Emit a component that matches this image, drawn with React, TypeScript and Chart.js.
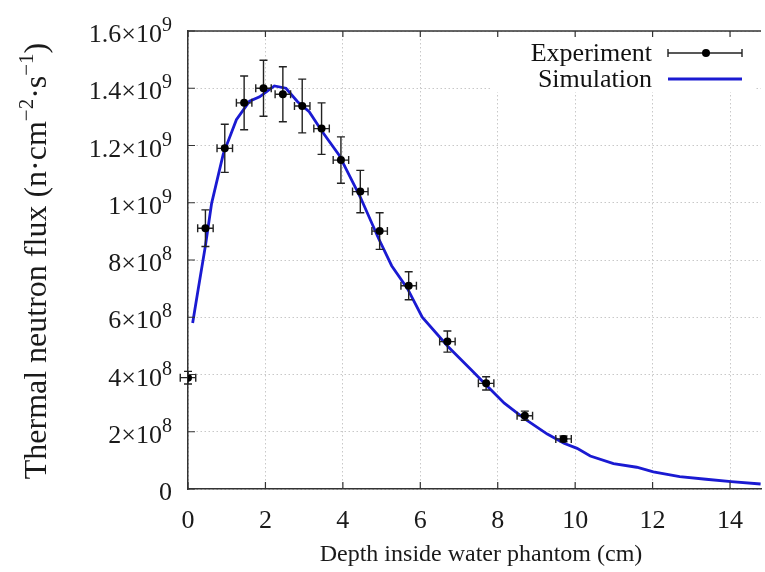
import { useEffect, useRef } from "react";
import { Chart, registerables } from "chart.js";

Chart.register(...registerables);

const FONT = '"Liberation Serif", "Times New Roman", serif';

// Experiment (measured) points
const expDepth = [0, 0.45, 0.95, 1.45, 1.95, 2.45, 2.95, 3.45, 3.95, 4.45, 4.95, 5.7, 6.7, 7.7, 8.7, 9.7];
const expFlux = [3.89e8, 9.11e8, 1.19e9, 1.349e9, 1.4e9, 1.379e9, 1.338e9, 1.259e9, 1.149e9, 1.039e9, 9.01e8, 7.1e8, 5.15e8, 3.69e8, 2.56e8, 1.75e8];
const expFluxErr = [2.2e7, 6.4e7, 8.4e7, 9.4e7, 9.8e7, 9.6e7, 9.4e7, 9.0e7, 8.1e7, 7.4e7, 6.4e7, 4.9e7, 3.7e7, 2.3e7, 1.6e7, 1.0e7];
const expDepthErr = [0.2, 0.2, 0.2, 0.2, 0.2, 0.2, 0.2, 0.2, 0.2, 0.2, 0.2, 0.2, 0.2, 0.2, 0.2, 0.2];

// Simulation curve
const simDepth = [0.12, 0.26, 0.45, 0.61, 0.91, 1.25, 1.59, 1.85, 2.23, 2.53, 2.83, 3.13, 3.47, 3.9, 4.45, 4.92, 5.26, 5.67, 6.05, 6.72, 7.32, 7.7, 8.17, 8.68, 9.28, 9.71, 10.05, 10.39, 10.99, 11.59, 12.02, 12.7, 13.38, 14.03, 14.79];
const simFlux = [5.8e8, 6.95e8, 8.5e8, 9.98e8, 1.17e9, 1.29e9, 1.355e9, 1.37e9, 1.408e9, 1.4e9, 1.353e9, 1.318e9, 1.248e9, 1.167e9, 1.02e9, 8.76e8, 7.8e8, 7.0e8, 6.0e8, 4.97e8, 4.16e8, 3.63e8, 3.0e8, 2.47e8, 1.92e8, 1.6e8, 1.42e8, 1.15e8, 8.9e7, 7.6e7, 6.0e7, 4.3e7, 3.4e7, 2.6e7, 1.75e7];

const xTicks = [0, 2, 4, 6, 8, 10, 12, 14];
const yTicks = [0, 2e8, 4e8, 6e8, 8e8, 1e9, 1.2e9, 1.4e9, 1.6e9];

const xTitle = "Depth inside water phantom (cm)";
const yTitleParts: [string, boolean][] = [
  ["Thermal neutron flux (n·cm", false],
  ["−2", true],
  ["·s", false],
  ["−1", true],
  [")", false],
];
const legendLabels = ["Experiment", "Simulation"];

const SIM_COLOR = "#1a1ad2";
const AXIS_COLOR = "#333333";

const decoPlugin = {
  id: "deco",
  afterDatasetDraw(chart: any, args: any) {
    if (args.index !== 1) return;
    const ctx = chart.ctx;
    const xs = chart.scales.x;
    const ys = chart.scales.y;
    ctx.save();
    ctx.strokeStyle = "#222";
    ctx.lineWidth = 1.4;
    for (let i = 0; i < expDepth.length; i++) {
      const px = xs.getPixelForValue(expDepth[i]);
      const py = ys.getPixelForValue(expFlux[i]);
      const y1 = ys.getPixelForValue(expFlux[i] - expFluxErr[i]);
      const y2 = ys.getPixelForValue(expFlux[i] + expFluxErr[i]);
      const x1 = xs.getPixelForValue(expDepth[i] - expDepthErr[i]);
      const x2 = xs.getPixelForValue(expDepth[i] + expDepthErr[i]);
      ctx.beginPath();
      ctx.moveTo(px, y1); ctx.lineTo(px, y2);
      ctx.moveTo(px - 4, y1); ctx.lineTo(px + 4, y1);
      ctx.moveTo(px - 4, y2); ctx.lineTo(px + 4, y2);
      ctx.moveTo(x1, py); ctx.lineTo(x2, py);
      ctx.moveTo(x1, py - 4); ctx.lineTo(x1, py + 4);
      ctx.moveTo(x2, py - 4); ctx.lineTo(x2, py + 4);
      ctx.stroke();
    }
    ctx.restore();
  },
  afterDraw(chart: any) {
    const ctx = chart.ctx;
    const xs = chart.scales.x;
    const ys = chart.scales.y;
    const area = chart.chartArea;
    ctx.save();

    // opaque key area
    ctx.fillStyle = "#ffffff";
    ctx.fillRect(492, area.top + 7, 264, 54);

    // top border
    ctx.strokeStyle = AXIS_COLOR;
    ctx.lineWidth = 1.5;
    ctx.beginPath();
    ctx.moveTo(area.left, area.top);
    ctx.lineTo(area.right, area.top);
    ctx.stroke();

    // inner ticks
    ctx.lineWidth = 1.2;
    ctx.beginPath();
    for (const v of xTicks) {
      const px = xs.getPixelForValue(v);
      ctx.moveTo(px, area.bottom); ctx.lineTo(px, area.bottom - 7);
      ctx.moveTo(px, area.top); ctx.lineTo(px, area.top + 6);
    }
    for (const v of yTicks) {
      const py = ys.getPixelForValue(v);
      ctx.moveTo(area.left, py); ctx.lineTo(area.left + 7, py);
    }
    ctx.stroke();

    // y tick labels with superscript exponents
    ctx.fillStyle = "#1a1a1a";
    ctx.textBaseline = "alphabetic";
    const R = 172;
    for (const v of yTicks) {
      const py = ys.getPixelForValue(v);
      const base = py + 11;
      if (v === 0) {
        ctx.font = `26px ${FONT}`;
        ctx.textAlign = "right";
        ctx.fillText("0", R, base);
        continue;
      }
      const e = Math.floor(Math.log10(v) + 1e-9);
      const m = Math.round((v / Math.pow(10, e)) * 10) / 10;
      const baseText = `${m}×10`;
      const supText = `${e}`;
      ctx.font = `20px ${FONT}`;
      const sw = ctx.measureText(supText).width;
      ctx.textAlign = "left";
      ctx.fillText(supText, R - sw, base - 11);
      ctx.font = `26px ${FONT}`;
      ctx.textAlign = "right";
      ctx.fillText(baseText, R - sw, base);
    }

    // x title
    ctx.font = `24px ${FONT}`;
    ctx.textAlign = "center";
    ctx.fillText(xTitle, 481, 561);

    // y title (rotated, with superscripts)
    ctx.save();
    ctx.translate(46, 261);
    ctx.rotate(-Math.PI / 2);
    let total = 0;
    const widths: number[] = [];
    for (const [t, sup] of yTitleParts) {
      ctx.font = sup ? `21px ${FONT}` : `32px ${FONT}`;
      const w = ctx.measureText(t).width;
      widths.push(w);
      total += w;
    }
    let cx = -total / 2;
    ctx.textAlign = "left";
    yTitleParts.forEach(([t, sup], i) => {
      ctx.font = sup ? `21px ${FONT}` : `32px ${FONT}`;
      ctx.fillText(t, cx, sup ? -13 : 0);
      cx += widths[i];
    });
    ctx.restore();

    // legend
    ctx.font = `26px ${FONT}`;
    ctx.textAlign = "right";
    ctx.fillStyle = "#111";
    ctx.fillText(legendLabels[0], 652, 61);
    ctx.fillText(legendLabels[1], 652, 87);
    ctx.strokeStyle = "#222";
    ctx.lineWidth = 1.4;
    ctx.beginPath();
    ctx.moveTo(668, 53); ctx.lineTo(742, 53);
    ctx.moveTo(668, 49); ctx.lineTo(668, 57);
    ctx.moveTo(742, 49); ctx.lineTo(742, 57);
    ctx.stroke();
    ctx.fillStyle = "#000";
    ctx.beginPath();
    ctx.arc(706, 53, 4, 0, Math.PI * 2);
    ctx.fill();
    ctx.strokeStyle = SIM_COLOR;
    ctx.lineWidth = 2.8;
    ctx.beginPath();
    ctx.moveTo(668, 79); ctx.lineTo(742, 79);
    ctx.stroke();

    ctx.restore();
  },
};

export default function App() {
  const ref = useRef<HTMLCanvasElement | null>(null);
  useEffect(() => {
    document.body.style.margin = "0";
    const canvas = ref.current;
    if (!canvas) return;
    const chart = new Chart(canvas, {
      type: "scatter",
      data: {
        datasets: [
          {
            label: legendLabels[0],
            data: expDepth.map((x, i) => ({ x, y: expFlux[i] })),
            pointRadius: 4,
            pointBackgroundColor: "#000",
            pointBorderColor: "#000",
            pointBorderWidth: 0,
            showLine: false,
            order: 0,
          },
          {
            label: legendLabels[1],
            data: simDepth.map((x, i) => ({ x, y: simFlux[i] })),
            showLine: true,
            pointRadius: 0,
            borderColor: SIM_COLOR,
            backgroundColor: SIM_COLOR,
            borderWidth: 2.8,
            tension: 0,
            fill: false,
            order: 1,
          },
        ],
      },
      options: {
        responsive: false,
        animation: false,
        devicePixelRatio: 1,
        layout: { padding: { top: 31, left: 0, right: 0, bottom: 0 } },
        plugins: {
          legend: { display: false },
          tooltip: { enabled: false },
          title: { display: false },
        },
        scales: {
          x: {
            type: "linear",
            min: 0,
            max: 14.8,
            afterBuildTicks: (s: any) => {
              s.ticks = xTicks.map((v) => ({ value: v }));
            },
            afterFit: (s: any) => {
              s.height = 83;
            },
            grid: { color: "#c8c8c8", lineWidth: 1, drawTicks: false },
            border: { display: true, color: AXIS_COLOR, width: 1.5, dash: [1.5, 2.5] },
            ticks: {
              font: { family: FONT, size: 26 },
              color: "#1a1a1a",
              padding: 17,
              maxRotation: 0,
              autoSkip: false,
            },
          },
          y: {
            type: "linear",
            min: 0,
            max: 1.6e9,
            afterBuildTicks: (s: any) => {
              s.ticks = yTicks.map((v) => ({ value: v }));
            },
            afterFit: (s: any) => {
              s.width = 188;
            },
            grid: { color: "#c8c8c8", lineWidth: 1, drawTicks: false },
            border: { display: true, color: AXIS_COLOR, width: 1.5, dash: [1.5, 2.5] },
            ticks: { display: false },
          },
        },
      },
      plugins: [decoPlugin],
    } as any);
    return () => chart.destroy();
  }, []);
  return (
    <canvas
      ref={ref}
      width={765}
      height={572}
      style={{ display: "block", width: "765px", height: "572px" }}
    />
  );
}
